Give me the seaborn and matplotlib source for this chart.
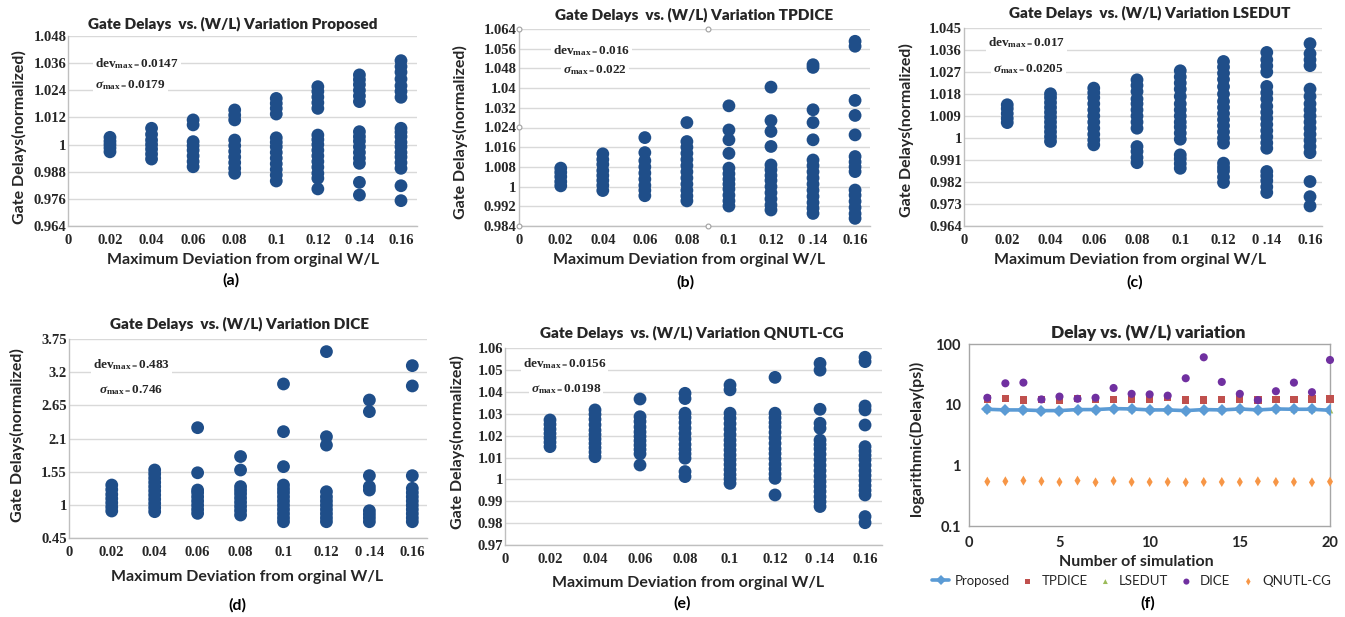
import matplotlib
matplotlib.use("Agg")
import matplotlib.pyplot as plt
import numpy as np
import pandas as pd
import seaborn as sns

# ---------------------------------------------------------------- data
deviation = [0.02, 0.04, 0.06, 0.08, 0.10, 0.12, 0.14, 0.16]
xtick_values = [0, 0.02, 0.04, 0.06, 0.08, 0.10, 0.12, 0.14, 0.16]
xtick_labels = ["0", "0.02", "0.04", "0.06", "0.08", "0.1", "0.12", "0 .14", "0.16"]

# normalized gate delays, one list per deviation level
proposed_delays = [
    [0.9968, 0.9985, 1.0000, 1.0015, 1.0032],
    [0.9936, 0.9958, 0.9980, 1.0000, 1.0020, 1.0045, 1.0072],
    [0.9902, 0.9925, 0.9950, 0.9975, 0.9995, 1.0013, 1.0087, 1.0109],
    [0.9873, 0.9895, 0.9920, 0.9945, 0.9970, 0.9995, 1.0020, 1.0109, 1.0130, 1.0153],
    [0.9839, 0.9865, 0.9890, 0.9915, 0.9940, 0.9965, 0.9990, 1.0010, 1.0030,
     1.0135, 1.0160, 1.0182, 1.0204],
    [0.9804, 0.9851, 0.9873, 0.9900, 0.9925, 0.9950, 0.9975, 1.0000, 1.0022, 1.0042,
     1.0160, 1.0185, 1.0210, 1.0235, 1.0256],
    [0.9777, 0.9833, 0.9917, 0.9940, 0.9965, 0.9990, 1.0015, 1.0035, 1.0057,
     1.0190, 1.0215, 1.0240, 1.0265, 1.0287, 1.0308],
    [0.9752, 0.9818, 0.9895, 0.9920, 0.9945, 0.9965, 0.9990, 1.0010, 1.0035, 1.0055, 1.0072,
     1.0209, 1.0235, 1.0260, 1.0290, 1.0320, 1.0345, 1.0371],
]

tpdice_delays = [
    [1.0003, 1.0020, 1.0040, 1.0058, 1.0075],
    [0.9984, 1.0005, 1.0025, 1.0045, 1.0065, 1.0090, 1.0110, 1.0133],
    [0.9963, 0.9985, 1.0005, 1.0030, 1.0055, 1.0080, 1.0105, 1.0138, 1.0199],
    [0.9942, 0.9962, 0.9985, 1.0010, 1.0035, 1.0060, 1.0085, 1.0110, 1.0135, 1.0160,
     1.0183, 1.0260],
    [0.9921, 0.9942, 0.9965, 0.9990, 1.0010, 1.0030, 1.0052, 1.0075, 1.0135, 1.0190,
     1.0230, 1.0328],
    [0.9905, 0.9925, 0.9950, 0.9975, 1.0000, 1.0025, 1.0045, 1.0068, 1.0088, 1.0163,
     1.0224, 1.0268, 1.0404],
    [0.9891, 0.9912, 0.9935, 0.9960, 0.9985, 1.0010, 1.0035, 1.0060, 1.0085, 1.0108,
     1.0190, 1.0260, 1.0312, 1.0484, 1.0495],
    [0.9871, 0.9890, 0.9915, 0.9940, 0.9965, 0.9986, 1.0061, 1.0080, 1.0100, 1.0122,
     1.0210, 1.0289, 1.0350, 1.0570, 1.0590],
]

lsedut_delays = [
    [1.0063, 1.0080, 1.0100, 1.0120, 1.0136],
    [0.9986, 1.0005, 1.0025, 1.0045, 1.0065, 1.0085, 1.0105, 1.0125, 1.0145, 1.0165, 1.0181],
    [0.9972, 0.9992, 1.0015, 1.0040, 1.0065, 1.0090, 1.0115, 1.0140, 1.0165, 1.0185, 1.0204],
    [0.9899, 0.9920, 0.9945, 0.9965, 1.0040, 1.0065, 1.0090, 1.0115, 1.0140, 1.0160,
     1.0190, 1.0215, 1.0238],
    [0.9876, 0.9895, 0.9915, 0.9931, 0.9995, 1.0020, 1.0045, 1.0065, 1.0090, 1.0115,
     1.0140, 1.0170, 1.0200, 1.0225, 1.0250, 1.0275],
    [0.9818, 0.9840, 0.9865, 0.9880, 0.9897, 0.9979, 1.0000, 1.0025, 1.0050, 1.0075,
     1.0100, 1.0125, 1.0150, 1.0180, 1.0210, 1.0240, 1.0265, 1.0290, 1.0313],
    [0.9777, 0.9800, 0.9825, 0.9845, 0.9863, 0.9958, 0.9980, 1.0005, 1.0030, 1.0055,
     1.0080, 1.0105, 1.0130, 1.0160, 1.0185, 1.0211, 1.0270, 1.0295, 1.0320, 1.0350],
    [0.9722, 0.9760, 0.9822, 0.9940, 0.9965, 0.9990, 1.0015, 1.0040, 1.0065, 1.0090,
     1.0115, 1.0140, 1.0170, 1.0200, 1.0296, 1.0320, 1.0345, 1.0386],
]

dice_delays = [
    [0.894, 0.96, 1.03, 1.10, 1.17, 1.25, 1.326],
    [0.883, 0.95, 1.02, 1.09, 1.16, 1.23, 1.30, 1.37, 1.44, 1.51, 1.576],
    [0.855, 0.92, 0.99, 1.06, 1.13, 1.20, 1.243, 1.53, 2.28],
    [0.827, 0.90, 0.97, 1.04, 1.11, 1.18, 1.24, 1.30, 1.576, 1.80],
    [0.716, 0.78, 0.85, 0.92, 0.99, 1.06, 1.13, 1.20, 1.26, 1.326, 1.632, 2.214, 3.007],
    [0.716, 0.78, 0.85, 0.92, 0.99, 1.06, 1.13, 1.215, 1.99, 2.13, 3.545],
    [0.716, 0.78, 0.84, 0.899, 1.243, 1.30, 1.482, 2.547, 2.74],
    [0.716, 0.78, 0.85, 0.92, 0.99, 1.06, 1.13, 1.20, 1.271, 1.482, 2.974, 3.312],
]

qnutl_delays = [
    [1.0150, 1.0170, 1.0190, 1.0210, 1.0230, 1.0252, 1.0272],
    [1.0104, 1.0125, 1.0145, 1.0165, 1.0185, 1.0205, 1.0225, 1.0250, 1.0275, 1.0298, 1.0318],
    [1.0066, 1.0117, 1.0137, 1.0157, 1.0177, 1.0197, 1.0217, 1.0240, 1.0265, 1.0287, 1.0368],
    [1.0013, 1.0036, 1.0097, 1.0117, 1.0137, 1.0160, 1.0185, 1.0210, 1.0235, 1.0260,
     1.0283, 1.0303, 1.0370, 1.0394],
    [0.9982, 1.0002, 1.0022, 1.0045, 1.0068, 1.0090, 1.0112, 1.0135, 1.0158, 1.0180,
     1.0205, 1.0230, 1.0255, 1.0280, 1.0303, 1.0410, 1.0432],
    [0.9929, 1.0005, 1.0025, 1.0048, 1.0070, 1.0095, 1.0118, 1.0140, 1.0165, 1.0190,
     1.0215, 1.0240, 1.0260, 1.0282, 1.0303, 1.0467],
    [0.9876, 0.9898, 0.9921, 0.9945, 0.9968, 0.9990, 1.0015, 1.0040, 1.0065, 1.0090,
     1.0115, 1.0140, 1.0160, 1.0180, 1.0234, 1.0257, 1.0321, 1.0500, 1.0531],
    [0.9802, 0.9830, 0.9929, 0.9950, 0.9972, 0.9995, 1.0018, 1.0040, 1.0065, 1.0090,
     1.0110, 1.0130, 1.0150, 1.0249, 1.0318, 1.0336, 1.0539, 1.0559],
]

# y axes of the scatter panels
yticks_proposed = [0.964, 0.976, 0.988, 1.0, 1.012, 1.024, 1.036, 1.048]
ylabels_proposed = ["0.964", "0.976", "0.988", "1", "1.012", "1.024", "1.036", "1.048"]
yticks_tpdice = [0.984, 0.992, 1.0, 1.008, 1.016, 1.024, 1.032, 1.040, 1.048, 1.056, 1.064]
ylabels_tpdice = ["0.984", "0.992", "1", "1.008", "1.016", "1.024", "1.032", "1.04",
                  "1.048", "1.056", "1.064"]
yticks_lsedut = [0.964, 0.973, 0.982, 0.991, 1.0, 1.009, 1.018, 1.027, 1.036, 1.045]
ylabels_lsedut = ["0.964", "0.973", "0.982", "0.991", "1", "1.009", "1.018", "1.027",
                  "1.036", "1.045"]
yticks_dice = [0.45, 1.0, 1.55, 2.1, 2.65, 3.2, 3.75]
ylabels_dice = ["0.45", "1", "1.55", "2.1", "2.65", "3.2", "3.75"]
yticks_qnutl = [0.97, 0.98, 0.99, 1.0, 1.01, 1.02, 1.03, 1.04, 1.05, 1.06]
ylabels_qnutl = ["0.97", "0.98", "0.99", "1", "1.01", "1.02", "1.03", "1.04", "1.05", "1.06"]

# per-design statistics printed inside each panel
dev_max = ["0.0147", "0.016", "0.017", "0.483", "0.0156"]
sigma_max = ["0.0179", "0.022", "0.0205", "0.746", "0.0198"]

# delay (ps) over 20 simulation runs
simulation = list(range(1, 21))
delay_proposed = [8.46, 8.25, 8.25, 8.04, 8.04, 8.36, 8.36, 8.67, 8.56, 8.25,
                  8.25, 8.04, 8.36, 8.25, 8.56, 8.25, 8.56, 8.46, 8.46, 8.14]
delay_tpdice = [12.5, 12.8, 12.0, 12.3, 12.0, 12.6, 12.3, 12.3, 12.3, 12.3,
                13.1, 12.0, 12.0, 12.2, 12.5, 12.0, 12.2, 12.2, 12.5, 12.5]
delay_lsedut = [8.42, 8.30, 8.28, 8.10, 8.08, 8.35, 8.33, 8.60, 8.52, 8.27,
                8.22, 8.07, 8.38, 8.23, 8.50, 8.27, 8.52, 8.44, 8.43, 8.17]
delay_dice = [13.1, 22.7, 23.3, 12.3, 13.7, 12.6, 13.1, 19.0, 15.2, 14.9,
              14.2, 27.5, 61.0, 23.9, 15.2, 12.0, 16.8, 23.3, 16.2, 55.1]
delay_qnutl = [0.540, 0.547, 0.561, 0.547, 0.533, 0.561, 0.526, 0.554, 0.533, 0.533,
               0.533, 0.526, 0.533, 0.533, 0.533, 0.547, 0.533, 0.533, 0.526, 0.540]

# ---------------------------------------------------------------- style
sns.set_style("white")
plt.rcParams["font.family"] = ["Lato", "DejaVu Sans"]
plt.rcParams["mathtext.fontset"] = "custom"
plt.rcParams["mathtext.rm"] = "Liberation Serif:bold"
plt.rcParams["mathtext.bf"] = "Liberation Serif:bold"
plt.rcParams["mathtext.it"] = "Liberation Serif:bold:italic"

DOT = "#1f4e89"
GRID = "#d9d9d9"
AXIS = "#bfbfbf"
INK = "#262626"
SERIF = "Liberation Serif"
W, H = 1345, 617

fig = plt.figure(figsize=(W / 100, H / 100), dpi=100)


def rect(left, top, right, bottom):
    return [left / W, 1 - bottom / H, (right - left) / W, (bottom - top) / H]


def scatter_panel(box, delays, xmax, yticks, ylabels, title, title_xy, tag, tag_xy,
                  dev, sig, dev_xy, sig_xy, ylab_xy, xlab_xy):
    ax = fig.add_axes(rect(*box))
    df = pd.DataFrame({
        "deviation": [d for d, col in zip(deviation, delays) for _ in col],
        "delay": [v for col in delays for v in col],
    })
    sns.scatterplot(data=df, x="deviation", y="delay", ax=ax, s=85, color=DOT,
                    edgecolor="none", linewidth=0, zorder=3, clip_on=False)
    ax.set_xlim(0, xmax)
    ax.set_ylim(yticks[0], yticks[-1])
    ax.set_yticks(yticks)
    ax.set_yticklabels(ylabels)
    ax.set_xticks(xtick_values)
    ax.set_xticklabels(xtick_labels)
    ax.yaxis.grid(True, color=GRID, linewidth=1.0, zorder=0)
    ax.xaxis.grid(False)
    for side in ("top", "right"):
        ax.spines[side].set_visible(False)
    for side in ("left", "bottom"):
        ax.spines[side].set_color(AXIS)
        ax.spines[side].set_linewidth(1.0)
    ax.tick_params(axis="both", length=0, labelsize=10.5, colors=INK)
    ax.tick_params(axis="y", pad=1.5)
    ax.tick_params(axis="x", pad=6)
    for lab in ax.get_xticklabels() + ax.get_yticklabels():
        lab.set_fontfamily(SERIF)
        lab.set_fontweight("bold")
    ax.set_xlabel("Maximum Deviation from orginal W/L", fontsize=11.5, fontweight="bold",
                  color=INK)
    ax.set_ylabel("Gate Delays(normalized)", fontsize=11.5, fontweight="bold", color=INK)
    ax.xaxis.set_label_coords(*xlab_xy)
    ax.yaxis.set_label_coords(*ylab_xy)
    box_style = dict(facecolor="white", edgecolor="none", pad=1.5)
    ax.text(*dev_xy, "dev$_{\\mathrm{max=}}$" + dev, fontfamily=SERIF, fontweight="bold",
            fontsize=9.5, ha="left", va="center", color=INK, bbox=box_style, zorder=4)
    ax.text(*sig_xy, "$\\sigma_{\\mathrm{max=}}$" + sig, fontfamily=SERIF, fontweight="bold",
            fontsize=9.5, ha="left", va="center", color=INK, bbox=box_style, zorder=4)
    fig.text(title_xy[0] / W, 1 - title_xy[1] / H, title, ha="center", va="center",
             fontsize=11, fontweight="heavy", color=INK)
    fig.text(tag_xy[0] / W, 1 - tag_xy[1] / H, tag, ha="center", va="center",
             fontsize=11.5, fontweight="bold", color="black")
    return ax


scatter_panel((68.4, 36, 417, 226), proposed_delays, 0.1677, yticks_proposed, ylabels_proposed,
              "Gate Delays  vs. (W/L) Variation Proposed", (233, 24), "(a)", (231, 280),
              dev_max[0], sigma_max[0], (0.0128, 1.0356), (0.0130, 1.0264),
              (-0.119, 0.47), (0.5, -0.142))

ax_b = scatter_panel((518.7, 29, 870, 226), tpdice_delays, 0.1671, yticks_tpdice, ylabels_tpdice,
                     "Gate Delays  vs. (W/L) Variation TPDICE", (694, 15), "(b)", (685, 282),
                     dev_max[1], sigma_max[1], (0.0163, 1.0552), (0.0211, 1.0475),
                     (-0.145, 0.477), (0.485, -0.137))
# selection handles on the plot-area frame
for hx, hy in [(0, 0), (0, 0.5), (0, 1), (0.538, 1), (0.538, 0)]:
    ax_b.plot(hx, hy, marker="o", markersize=3.5, markerfacecolor="white",
              markeredgecolor="#a0a0a0", markeredgewidth=0.8, transform=ax_b.transAxes,
              clip_on=False, zorder=5)

scatter_panel((964, 28, 1321.7, 226), lsedut_delays, 0.1654, yticks_lsedut, ylabels_lsedut,
              "Gate Delays  vs. (W/L) Variation LSEDUT", (1150, 13), "(c)", (1135, 282),
              dev_max[2], sigma_max[2], (0.0111, 1.0389), (0.0134, 1.0283),
              (-0.141, 0.485), (0.464, -0.136))

scatter_panel((68.8, 339.3, 426.7, 537.7), dice_delays, 0.1667, yticks_dice, ylabels_dice,
              "Gate Delays  vs. (W/L) Variation DICE", (240, 324), "(d)", (237, 605),
              dev_max[3], sigma_max[3], (0.0111, 3.334), (0.0142, 2.907),
              (-0.122, 0.518), (0.499, -0.163))

scatter_panel((505, 348.3, 881.7, 545), qnutl_delays, 0.1674, yticks_qnutl, ylabels_qnutl,
              "Gate Delays  vs. (W/L) Variation QNUTL-CG", (692, 333), "(e)", (682, 603),
              dev_max[4], sigma_max[4], (0.0079, 1.0531), (0.0114, 1.0412),
              (-0.105, 0.521), (0.487, -0.156))

# ---------------------------------------------------------------- panel (f)
ax = fig.add_axes(rect(969.3, 344.3, 1330, 526))
ax.set_yscale("log")
sns.scatterplot(x=simulation, y=delay_lsedut, ax=ax, marker="^", s=22, color="#9bbb59",
                edgecolor="none", label="LSEDUT", zorder=2, clip_on=False)
sns.lineplot(x=simulation, y=delay_proposed, ax=ax, color="#5b9bd5", linewidth=2.6,
             marker="D", markersize=6.5, markeredgewidth=0, label="Proposed", zorder=3)
sns.scatterplot(x=simulation, y=delay_tpdice, ax=ax, marker="s", s=28, color="#c0504d",
                edgecolor="none", label="TPDICE", zorder=4, clip_on=False)
sns.scatterplot(x=simulation, y=delay_dice, ax=ax, marker="o", s=34, color="#7030a0",
                edgecolor="none", label="DICE", zorder=5, clip_on=False)
sns.scatterplot(x=simulation, y=delay_qnutl, ax=ax, marker="d", s=26, color="#f79646",
                edgecolor="none", label="QNUTL-CG", zorder=4, clip_on=False)
ax.set_xlim(0, 20)
ax.set_ylim(0.1, 100)
ax.set_xticks([0, 5, 10, 15, 20])
ax.set_xticklabels(["0", "5", "10", "15", "20"])
ax.set_yticks([0.1, 1, 10, 100])
ax.set_yticklabels(["0.1", "1", "10", "100"])
ax.minorticks_off()
ax.grid(False)
for side in ax.spines.values():
    side.set_color("#a6a6a6")
    side.set_linewidth(1.0)
ax.tick_params(axis="both", length=0, labelsize=10.5, colors=INK)
ax.tick_params(axis="x", pad=7)
ax.tick_params(axis="y", pad=6)
for lab in ax.get_xticklabels() + ax.get_yticklabels():
    lab.set_fontweight("bold")
ax.set_xlabel("Number of simulation", fontsize=11.5, fontweight="bold", color=INK)
ax.set_ylabel("logarithmic(Delay(ps))", fontsize=11.5, fontweight="bold", color=INK)
ax.xaxis.set_label_coords(0.464, -0.158)
ax.yaxis.set_label_coords(-0.126, 0.484)
handles, labels = ax.get_legend_handles_labels()
order = [labels.index(n) for n in ["Proposed", "TPDICE", "LSEDUT", "DICE", "QNUTL-CG"]]
ax.legend([handles[i] for i in order], [labels[i] for i in order], ncol=5, frameon=False,
          loc="center", bbox_to_anchor=(0.45, -0.303), fontsize=9.5, handlelength=1.3,
          handletextpad=0.4, columnspacing=0.7, borderaxespad=0, markerscale=0.75)
fig.text(1148.7 / W, 1 - 333 / H, "Delay vs. (W/L) variation", ha="center", va="center",
         fontsize=12.5, fontweight="heavy", color=INK)
fig.text(1148 / W, 1 - 603 / H, "(f)", ha="center", va="center", fontsize=11.5,
         fontweight="bold", color="black")

fig.savefig("out.png", dpi=100, facecolor="white")
